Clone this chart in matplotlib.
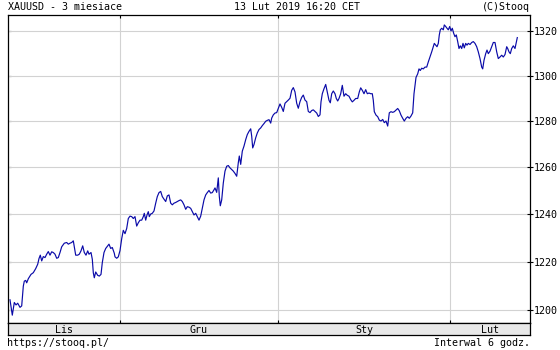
import numpy as np
import matplotlib
matplotlib.use("Agg")
import matplotlib.pyplot as plt
from matplotlib.ticker import FixedLocator, NullLocator, FixedFormatter

# time axis: position in 6-hour trading intervals from the start of the window
t = [
    1.0, 2.15, 3.15, 4.0, 4.85, 6.0, 6.85, 7.65, 8.15, 8.85, 9.35, 10.15, 11.5, 12.65,
    13.85, 14.85, 15.5, 16.15, 16.85, 17.65, 18.5, 19.35, 20.15, 21.0, 21.85, 22.65,
    23.5, 24.35, 25.15, 26.0, 26.85, 28.15, 29.35, 30.15, 31.0, 31.85, 32.65, 33.15,
    33.85, 34.85, 35.65, 36.5, 37.35, 38.15, 39.0, 39.85, 40.5, 41.5, 42.15, 42.65,
    43.15, 43.85, 44.85, 45.65, 46.5, 47.15, 48.0, 48.85, 49.85, 50.5, 51.35, 52.15,
    53.15, 53.5, 54.35, 55.15, 56.0,
    56.85, 57.65, 58.5, 59.35, 60.15, 61.0, 61.85, 62.65, 63.5, 64.35, 65.15, 66.0,
    66.85, 67.65, 68.15, 68.85, 69.5, 70.15, 70.65, 71.35, 72.15, 73.0, 73.85, 74.65,
    75.5, 76.35, 77.15, 78.0, 78.85, 79.65, 80.5, 81.35, 82.15, 83.0, 83.85, 84.65,
    85.5, 86.35, 87.15, 88.0, 88.85, 89.65, 90.5, 91.35, 92.15, 93.0, 93.85, 94.65,
    95.5, 96.35, 97.15, 98.0, 98.85, 99.65, 100.5, 101.35, 102.15, 103.0,
    103.5, 104.35, 105.15, 105.65, 106.15, 106.85, 107.65, 108.5, 109.35, 110.15,
    111.0, 111.85, 112.65, 113.5, 114.35, 115.15, 115.65, 116.35, 117.15, 118.0,
    118.85, 119.65, 120.5, 121.35, 121.85, 122.35, 123.0, 123.85, 124.65, 125.5,
    126.35, 127.15, 128.0, 128.85, 129.65, 130.5, 131.35, 131.85, 132.65, 133.5,
    134.35, 135.15, 136.0, 136.85, 137.65, 138.5, 139.35, 140.15, 141.0, 141.85,
    142.65, 143.5, 144.35, 145.15, 146.0, 146.85, 147.65, 148.5, 149.35, 150.15,
    151.0, 151.85, 152.65, 153.5, 154.35, 155.15, 156.0,
    156.5, 157.15, 158.0, 158.85, 159.65, 160.5, 161.15, 161.85, 162.65, 163.5,
    164.15, 164.85, 165.5, 166.35, 167.15, 168.0, 168.85, 169.65, 170.5, 171.35,
    172.15, 173.0, 173.85, 174.85, 175.65, 176.35, 177.15, 178.0, 178.85, 179.65,
    180.5, 181.35, 182.15, 182.65, 183.15, 184.0, 184.85, 185.65, 186.5, 187.35,
    188.15, 189.0, 189.85, 190.65, 191.5, 192.35, 193.15, 194.0, 194.85, 195.65,
    196.5, 197.35, 198.15, 199.0, 199.85, 200.65, 201.5, 202.35, 203.0,
    204.0, 204.85, 205.5, 206.15, 206.85, 207.65, 208.5, 209.35, 210.15, 211.0,
    211.85, 212.65, 213.15, 213.85, 214.5, 215.15, 215.65, 216.15, 216.85, 217.65,
    218.15, 218.85, 219.5, 220.15, 220.85, 221.5, 222.15, 222.85, 223.5, 224.15,
    224.85, 225.5, 226.15, 226.85, 227.5, 228.15, 228.85, 229.5, 230.15, 231.0,
    231.85, 232.65, 233.5, 234.35, 235.15, 236.0, 236.85, 237.35, 238.0, 238.85,
    239.5, 240.15, 241.0, 241.85, 242.65, 243.5, 244.35, 245.15, 246.0, 246.85,
    247.65, 248.5, 249.35, 249.85, 250.5, 251.15, 251.85, 252.65, 253.5, 254.15,
    254.65,
]

price = [
    1204.2, 1197.9, 1203.1, 1202.1, 1202.8, 1201.1, 1201.7, 1209.8, 1211.9, 1212.2,
    1211.2, 1212.9, 1214.7, 1215.4, 1217.1, 1218.9, 1221.3, 1222.7, 1220.3, 1222.1,
    1221.7, 1223.1, 1224.2, 1222.7, 1224.1, 1223.8, 1223.1, 1221.4, 1221.7, 1223.8,
    1226.2, 1227.7, 1228.0, 1227.3, 1227.7, 1228.0, 1228.7, 1226.3, 1222.7, 1222.7,
    1223.1, 1224.5, 1226.6, 1223.8, 1222.7, 1224.5, 1223.1, 1223.8, 1221.0, 1215.4,
    1213.3, 1215.7, 1214.3, 1214.0, 1214.7, 1219.6, 1223.8, 1225.5, 1226.6, 1227.3,
    1225.5, 1225.9, 1223.5, 1222.0, 1221.4, 1222.0, 1224.6,
    1229.6, 1233.1, 1231.7, 1233.9, 1238.1, 1239.1, 1238.9, 1238.1, 1238.9, 1234.9,
    1236.3, 1237.4, 1237.4, 1238.9, 1240.3, 1237.4, 1239.6, 1241.0, 1238.9, 1240.0,
    1240.3, 1241.3, 1244.6, 1247.4, 1249.1, 1249.6, 1247.4, 1246.3, 1245.3, 1247.7,
    1248.1, 1244.6, 1243.9, 1244.6, 1244.9, 1245.3, 1245.7, 1246.0, 1245.3, 1243.9,
    1242.0, 1243.1, 1242.9, 1242.4, 1241.0, 1239.6, 1240.3, 1238.9, 1237.4, 1239.1,
    1242.4, 1246.0, 1248.1, 1249.1, 1250.0, 1248.9, 1249.1, 1250.3,
    1251.1, 1249.2, 1255.4, 1247.5, 1243.5, 1246.0, 1253.2, 1258.3, 1260.4, 1260.7,
    1259.7, 1259.0, 1258.3, 1257.3, 1256.1, 1261.9, 1264.8, 1261.2, 1266.9, 1269.1,
    1271.9, 1274.1, 1275.5, 1276.6, 1273.4, 1268.3, 1269.8, 1272.7, 1274.8, 1276.3,
    1277.0, 1278.0, 1278.9, 1279.9, 1280.3, 1280.6, 1279.1, 1281.3, 1282.7, 1283.5,
    1283.7, 1285.6, 1287.5, 1286.0, 1284.2, 1287.8, 1288.5, 1289.2, 1290.0, 1293.5,
    1294.7, 1292.8, 1287.8, 1285.6, 1288.5, 1290.4, 1291.4, 1289.2, 1288.5, 1284.2,
    1283.7, 1284.6, 1284.9, 1284.2, 1283.5, 1282.0, 1282.7,
    1288.4, 1292.0, 1294.2, 1296.1, 1292.8, 1289.1, 1288.0, 1292.0, 1293.2, 1292.0,
    1289.9, 1288.8, 1289.9, 1292.0, 1295.7, 1290.9, 1292.0, 1291.3, 1290.9, 1289.4,
    1288.4, 1289.1, 1289.9, 1289.9, 1292.8, 1294.6, 1293.5, 1292.0, 1293.8, 1292.0,
    1292.3, 1292.0, 1292.0, 1289.1, 1284.1, 1282.6, 1281.9, 1280.4, 1280.0, 1280.7,
    1279.3, 1280.0, 1277.8, 1283.6, 1284.1, 1283.8, 1284.1, 1284.8, 1285.5, 1284.5,
    1282.6, 1281.2, 1280.0, 1281.2, 1281.9, 1281.2, 1282.2, 1283.6, 1292.0,
    1299.2, 1300.8, 1303.0, 1302.3, 1303.3, 1303.0, 1303.8, 1303.8, 1306.1, 1308.3,
    1310.6, 1312.9, 1314.4, 1313.6, 1312.9, 1314.4, 1318.2, 1320.5, 1321.2, 1320.5,
    1322.7, 1322.0, 1321.2, 1320.5, 1322.0, 1320.0, 1321.2, 1318.9, 1317.4, 1318.2,
    1315.2, 1312.1, 1313.3, 1312.1, 1314.4, 1312.4, 1314.4, 1313.6, 1314.4, 1313.9,
    1314.8, 1315.2, 1314.4, 1312.9, 1310.6, 1307.6, 1303.8, 1303.0, 1306.8, 1309.8,
    1311.4, 1309.8, 1310.9, 1312.9, 1314.8, 1314.8, 1310.6, 1307.6, 1308.3, 1309.1,
    1308.3, 1309.4, 1312.9, 1312.1, 1310.6, 1309.8, 1312.1, 1313.3, 1312.1, 1314.8,
    1317.0,
]

months = ["Lis", "Gru", "Sty", "Lut"]
month_starts = [56, 135, 221]
t_end = 261
y_ticks = [1200, 1220, 1240, 1260, 1280, 1300, 1320]

title_left = "XAUUSD - 3 miesiace"
title_mid = "13 Lut 2019 16:20 CET"
title_right = "(C)Stooq"
foot_left = "https://stooq.pl/"
foot_right = "Interwal 6 godz."

font = "DejaVu Sans Mono"
fs = 7.2
grid_c = "#d2d2d2"

fig = plt.figure(figsize=(5.6, 3.5), dpi=100)
W, H = 560, 350
left, right, top, bottom = 8 / W, 530 / W, 1 - 15 / H, 1 - 323 / H

ax = fig.add_axes([left, bottom, right - left, top - bottom])
ax.plot(t, price, color="#0a0aa8", lw=0.85)
ax.set_yscale("log")
ax.set_xlim(0, t_end)
ax.set_ylim(1194.7, 1327.2)

ax.yaxis.set_major_locator(FixedLocator(y_ticks))
ax.yaxis.set_major_formatter(FixedFormatter([str(v) for v in y_ticks]))
ax.yaxis.set_minor_locator(NullLocator())
ax.xaxis.set_major_locator(FixedLocator(month_starts))
ax.xaxis.set_minor_locator(NullLocator())

ax.grid(True, color=grid_c, lw=0.8)
ax.set_axisbelow(True)
ax.tick_params(axis="y", left=False, right=True, labelleft=False, labelright=True,
               direction="inout", length=4, width=0.8, pad=1,
               labelsize=fs, labelfontfamily=font)
ax.tick_params(axis="x", top=True, bottom=True, labelbottom=False,
               direction="in", length=2.3, width=0.8)
for s in ax.spines.values():
    s.set_linewidth(0.9)

# small inward ticks on the left border
sec = ax.secondary_yaxis("left")
sec.yaxis.set_major_locator(FixedLocator(y_ticks))
sec.yaxis.set_minor_locator(NullLocator())
sec.tick_params(direction="in", length=2.3, width=0.8, labelleft=False)
sec.spines["left"].set_visible(False)

# month band
band = fig.add_axes([left, 1 - 335 / H, right - left, 12 / H])
band.set_facecolor("#e8e8e8")
band.set_xlim(0, t_end)
band.set_ylim(0, 1)
band.set_xticks([])
band.set_yticks([])
for s in band.spines.values():
    s.set_linewidth(0.9)
edges = [0] + month_starts + [t_end]
for i, m in enumerate(months):
    band.text((edges[i] + edges[i + 1]) / 2, 0.45, m, ha="center", va="center",
              fontsize=fs, family=font)

fig.text(left, 1 - 7.5 / H, title_left, ha="left", va="center", fontsize=fs, family=font)
fig.text(297.5 / W, 1 - 7.5 / H, title_mid, ha="center", va="center", fontsize=fs, family=font)
fig.text(right, 1 - 7.5 / H, title_right, ha="right", va="center", fontsize=fs, family=font)
fig.text(7 / W, 1 - 343.5 / H, foot_left, ha="left", va="center", fontsize=fs, family=font)
fig.text(right, 1 - 343.5 / H, foot_right, ha="right", va="center", fontsize=fs, family=font)

fig.savefig("out.png", dpi=100)
